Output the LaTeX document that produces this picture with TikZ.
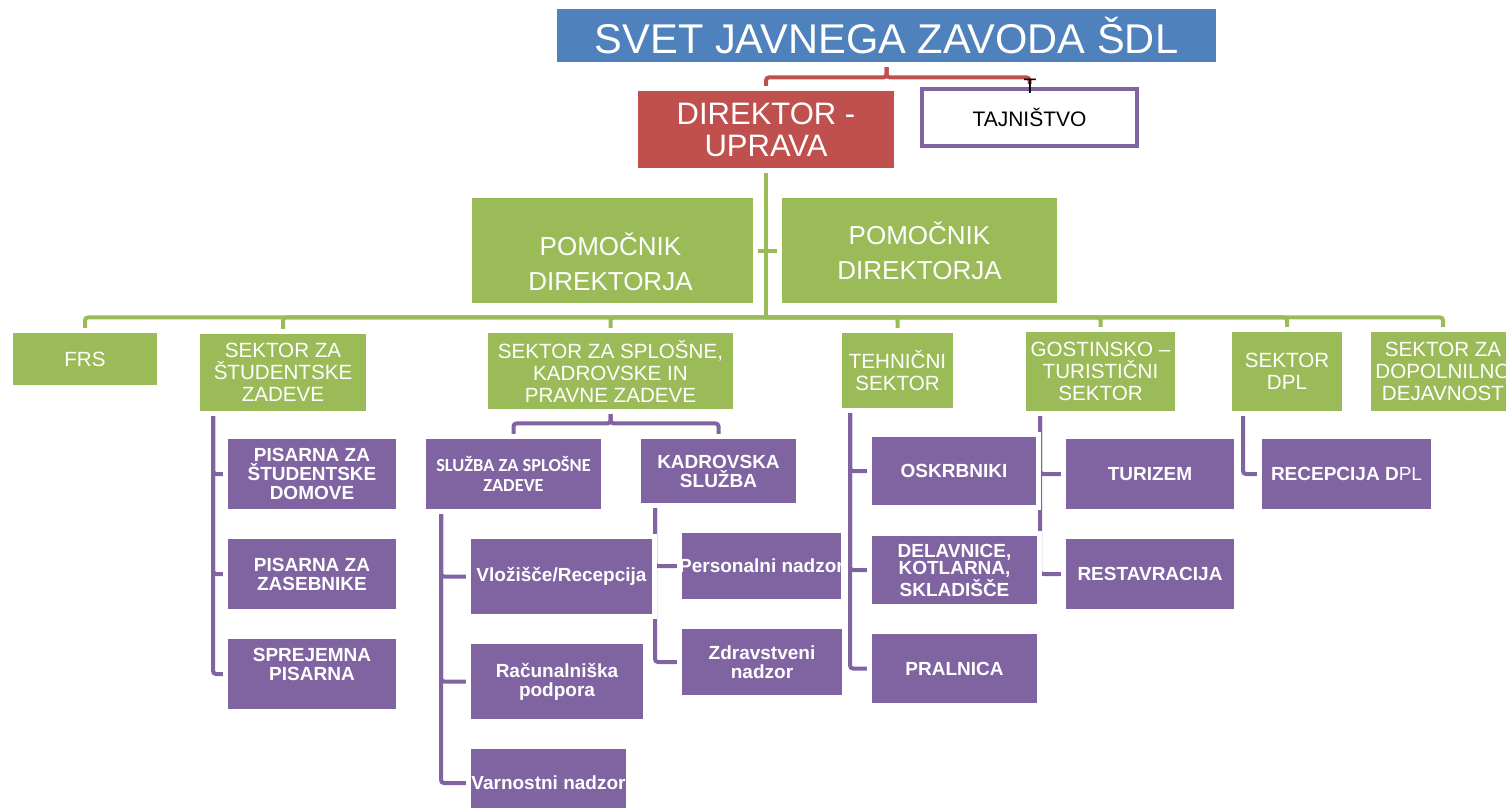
\documentclass[tikz,border=0pt]{standalone}
\usepackage{fontspec}
\setmainfont{Liberation Sans}
\newfontfamily\calibrifont{Carlito}
\usetikzlibrary{backgrounds}
\definecolor{hdrblue}{HTML}{4F81BD}
\definecolor{dirred}{HTML}{C0504D}
\definecolor{sectgreen}{HTML}{9BBB59}
\definecolor{unitpurple}{HTML}{8064A2}
\tikzstyle{box} = [inner sep=0pt,align=center,text=white,preaction={draw=white,line width=5pt}]
\tikzstyle{bluebox} = [box,fill=hdrblue,font=\fontsize{20.8}{24}\selectfont]
\tikzstyle{redbox} = [box,fill=dirred,font=\fontsize{15.5}{16}\selectfont]
\tikzstyle{pombox} = [box,fill=sectgreen,font=\fontsize{13}{17.5}\selectfont]
\tikzstyle{sectbox} = [box,fill=sectgreen,font=\fontsize{10.3}{11}\selectfont]
\tikzstyle{unitbox} = [box,fill=unitpurple,font=\bfseries\fontsize{9.5}{9.5}\selectfont]
\tikzstyle{link} = [draw,line width=2pt,rounded corners=1.5pt]

\begin{document}
\begin{tikzpicture}[x=0.5pt,y=-0.5pt,px/.style 2 args={minimum width=#1*0.5pt,minimum height=#2*0.5pt}]
    \useasboundingbox (0,0) rectangle (1506,808);
    \clip (0,0) rectangle (1506,808);

    % top
    \node[bluebox,px={659}{53}] (title) at (886.5,35.5) {SVET JAVNEGA ZAVODA ŠDL};
    \node[redbox,px={256}{77}] (dir) at (766,129.5) {DIREKTOR -\\UPRAVA};
    \node[box,px={215}{57},fill=white,draw=unitpurple,line width=2pt,text=black,font=\fontsize{10.5}{12}\selectfont] (taj) at (1029.5,117.5) {TAJNIŠTVO};
    \node[inner sep=0pt,font=\fontsize{10.5}{12}\selectfont] (tmark) at (1030,86) {T};

    % assistants
    \node[pombox,px={281}{105}] (pom1) at (612.5,250.5) {};
    \node[inner sep=0pt,align=center,text=white,font=\fontsize{13}{17.5}\selectfont] (pom1txt) at (610.5,261.5) {POMOČNIK\\DIREKTORJA};
    \node[pombox,px={275}{105}] (pom2) at (919.5,250.5) {POMOČNIK\\DIREKTORJA};

    % sectors
    \node[sectbox,px={144}{52}] (frs) at (85,359) {FRS};
    \node[sectbox,px={166}{77}] (stud) at (283,372.5) {SEKTOR ZA\\ŠTUDENTSKE\\ZADEVE};
    \node[sectbox,px={245}{76}] (splo) at (610.5,371) {SEKTOR ZA SPLOŠNE,\\KADROVSKE IN\\PRAVNE ZADEVE};
    \node[sectbox,px={111}{75}] (teh) at (897.5,370.5) {TEHNIČNI\\SEKTOR};
    \node[sectbox,px={149}{79}] (gost) at (1100.5,371.5) {GOSTINSKO –\\TURISTIČNI\\SEKTOR};
    \node[sectbox,px={110}{79}] (dpl) at (1287,371.5) {SEKTOR\\DPL};
    \node[sectbox,px={144}{79}] (dop) at (1443,371.5) {SEKTOR ZA\\DOPOLNILNO\\DEJAVNOST};

    % units
    \node[unitbox,px={168}{70}] (psd) at (312,474) {PISARNA ZA\\ŠTUDENTSKE\\DOMOVE};
    \node[unitbox,px={168}{70}] (psz) at (312,574) {PISARNA ZA\\ZASEBNIKE};
    \node[unitbox,px={168}{70}] (spp) at (312,674) {SPREJEMNA\\PISARNA\\\mbox{}};
    \node[unitbox,px={175}{70},font=\calibrifont\bfseries\fontsize{9.2}{10}\selectfont] (sluz) at (513.5,474) {SLUŽBA ZA SPLOŠNE\\ZADEVE};
    \node[unitbox,px={155}{64}] (kadr) at (718.5,471) {KADROVSKA\\SLUŽBA};
    \node[unitbox,px={181}{75}] (vlo) at (561.5,576.5) {Vložišče/Recepcija};
    \node[unitbox,px={172}{75}] (rac) at (557,681.5) {Računalniška\\podpora};
    \node[unitbox,px={155}{68}] (var) at (548.5,783) {\makebox[0pt]{Varnostni nadzor}};
    \node[unitbox,px={159}{66}] (pers) at (761.5,566) {\makebox[0pt]{Personalni nadzor}};
    \node[unitbox,px={160}{66}] (zdr) at (762,662) {Zdravstveni\\nadzor};
    \node[unitbox,px={164}{68}] (osk) at (954,471) {OSKRBNIKI};
    \node[unitbox,px={165}{68},font=\bfseries\fontsize{9.5}{8.5}\selectfont] (del) at (954.5,570) {DELAVNICE,\\KOTLARNA,\\SKLADIŠČE};
    \node[unitbox,px={165}{69}] (pral) at (954.5,668.5) {PRALNICA};
    \node[unitbox,px={168}{70}] (tur) at (1150,474) {TURIZEM};
    \node[unitbox,px={168}{70}] (rest) at (1150,574) {RESTAVRACIJA};
    \node[unitbox,px={169}{70}] (rdpl) at (1346.5,474) {RECEPCIJA D{\mdseries PL}};

    \begin{pgfonlayer}{background}
    % red
    \draw[link,dirred] (title.south) -- ++(0,15) -| (dir.north);
    \draw[link,dirred] (title.south) -- ++(0,15) -| (taj.north);
    % green
    \draw[link,sectgreen] (dir.south) -- ++(0,149) coordinate (bus);
    \draw[link,sectgreen] (pom1.east) -- (pom2.west);
    \foreach \s in {frs,stud,splo,teh,gost,dpl,dop}
        \draw[link,sectgreen] (bus) -| (\s.north);
    % purple
    \draw[link,unitpurple] (splo.south) -- ++(0,14) -| (sluz.north);
    \draw[link,unitpurple] (splo.south) -- ++(0,14) -| (kadr.north);
    \coordinate (studspine) at (213,411);
    \coordinate (sluzspine) at (441,509);
    \coordinate (kadrspine) at (655,503);
    \coordinate (tehspine) at (850,408);
    \coordinate (gostspine) at (1040,411);
    \coordinate (dplspine) at (1243,411);
    \foreach \u in {psd,psz,spp}
        \draw[link,unitpurple] (studspine) |- (\u.west);
    \foreach \u in {vlo,rac,var}
        \draw[link,unitpurple] (sluzspine) |- (\u.west);
    \foreach \u in {pers,zdr}
        \draw[link,unitpurple] (kadrspine) |- (\u.west);
    \foreach \u in {osk,del,pral}
        \draw[link,unitpurple] (tehspine) |- (\u.west);
    \foreach \u in {tur,rest}
        \draw[link,unitpurple] (gostspine) |- (\u.west);
    \draw[link,unitpurple] (dplspine) |- (rdpl.west);
    \end{pgfonlayer}

\end{tikzpicture}
\end{document}
